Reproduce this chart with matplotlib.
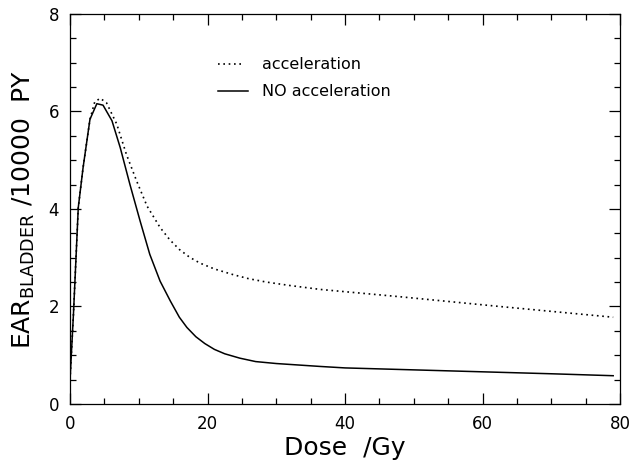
import numpy as np
import matplotlib
matplotlib.use('Agg')
import matplotlib.pyplot as plt
from matplotlib.ticker import MultipleLocator

# values
dose_no_acc = [0, 0.5, 1.2, 1.9, 2.9, 3.9, 4.8, 6.1, 7.3, 8.7, 10.2, 11.6, 13.1,
               14.6, 15.9, 17.0, 18.3, 19.6, 21.0, 22.5, 24.7, 27.0, 30, 36.4, 40,
               50, 60, 70, 79]
ear_no_acc = [0.5, 1.85, 4.03, 4.85, 5.84, 6.16, 6.13, 5.81, 5.26, 4.51, 3.75, 3.07, 2.52,
              2.11, 1.78, 1.57, 1.38, 1.24, 1.12, 1.03, 0.94, 0.87, 0.83, 0.77, 0.74,
              0.70, 0.66, 0.62, 0.58]

dose_acc = [0, 0.5, 1.2, 1.9, 2.9, 3.6, 4.4, 5.3, 6.8, 8.2, 9.7, 11.2, 13.1,
            14.5, 15.9, 17.4, 18.9, 21.0, 23.8, 26.0, 28.6, 32.0, 36.4, 48, 62.5, 79]
ear_acc = [0.5, 1.85, 4.03, 4.85, 5.84, 6.2, 6.27, 6.18, 5.74, 5.12, 4.57, 4.06, 3.62,
           3.37, 3.17, 3.01, 2.89, 2.77, 2.65, 2.57, 2.5, 2.43, 2.35, 2.2, 2.0, 1.78]

legend_labels = ['acceleration', 'NO acceleration']

fig = plt.figure(figsize=(6.32, 4.65), dpi=100)
ax = fig.add_axes([0.1108, 0.1312, 0.8703, 0.8387])

ax.plot(dose_acc, ear_acc, color='black', lw=1.2, linestyle=(0, (1, 2.2)))
ax.plot(dose_no_acc, ear_no_acc, color='black', lw=1.1)

# legend drawn by hand like the original
ax.plot([21.5, 24.8], [6.97, 6.97], color='black', lw=1.2, linestyle=(0, (1, 2.2)))
ax.plot([21.5, 25.9], [6.42, 6.42], color='black', lw=1.1)
ax.text(27.9, 6.97, legend_labels[0], fontsize=11.5, va='center', ha='left')
ax.text(27.9, 6.42, legend_labels[1], fontsize=11.5, va='center', ha='left')

ax.set_xlim(0, 80)
ax.set_ylim(0, 8)
ax.xaxis.set_major_locator(MultipleLocator(20))
ax.xaxis.set_minor_locator(MultipleLocator(5))
ax.yaxis.set_major_locator(MultipleLocator(2))
ax.yaxis.set_minor_locator(MultipleLocator(0.5))
ax.tick_params(which='both', direction='in', top=True, right=True, width=0.9,
               labelsize=12, pad=8)
ax.tick_params(which='major', length=8)
ax.tick_params(which='minor', length=4)
for s in ax.spines.values():
    s.set_linewidth(0.9)

ax.set_xlabel('Dose  /Gy', fontsize=18, labelpad=2)
ax.set_ylabel(r'EAR$_{\mathregular{BLADDER}}$ /10000  PY', fontsize=18, labelpad=8)

fig.savefig('out.png', dpi=100)
